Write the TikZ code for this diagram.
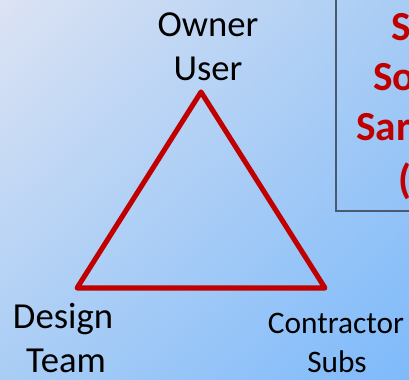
\documentclass[tikz,border=0pt]{standalone}
\usepackage{fontspec}
\setmainfont{Carlito}
\usepackage{xcolor}
\usetikzlibrary{shadings}
\definecolor{trired}{HTML}{C00000}
\definecolor{bgtl}{HTML}{DCE3F4}
\definecolor{bgtr}{HTML}{A8CCF4}
\definecolor{bgbl}{HTML}{A9CDF5}
\definecolor{bgbr}{HTML}{7EBAFB}
\definecolor{boxgray}{HTML}{4A5A6E}
\tikzset{
	role/.style={anchor=base, inner sep=0pt, font=\fontsize{27.5}{30}\selectfont},
	rolesmall/.style={anchor=base, inner sep=0pt, font=\fontsize{23.5}{27}\selectfont},
	note/.style={anchor=base west, inner sep=0pt, text=trired, font=\bfseries\fontsize{31}{33}\selectfont},
}

\begin{document}
\begin{tikzpicture}[x=0.75pt,y=-0.75pt]
	\useasboundingbox (0,0) rectangle (409,379);
	\shade [upper left=bgtl, upper right=bgtr, lower left=bgbl, lower right=bgbr] (0,0) rectangle (409,379);
	% corners of the triangle
	\coordinate (owner) at (201,92);
	\coordinate (design) at (77,288);
	\coordinate (contractor) at (325,288);
	\draw [trired, line width=3.8pt, line join=round] (owner) -- (design) -- (contractor) -- cycle;
	\node [role] (ownertxt) at (208,36) {Owner};
	\node [role] (usertxt) at (208,80) {User};
	\node [role] (designtxt) at (63,328) {Design};
	\node [role] (teamtxt) at (66,372) {Team};
	\node [rolesmall] (contrtxt) at (336,333) {Contractor};
	\node [rolesmall] (substxt) at (337,372) {Subs};
	% box on the right, cut by the edge
	\coordinate (boxtop) at (336,-10);
	\coordinate (boxend) at (420,211);
	\draw [boxgray, line width=1.5pt] (boxtop) |- (boxend);
	\node [note] (noteone) at (391,40) {S};
	\node [note] (notetwo) at (373,90) {So};
	\node [note] (notethree) at (356,140) {Sar};
	\node [note] (notefour) at (398,193) {(};
\end{tikzpicture}
\end{document}
